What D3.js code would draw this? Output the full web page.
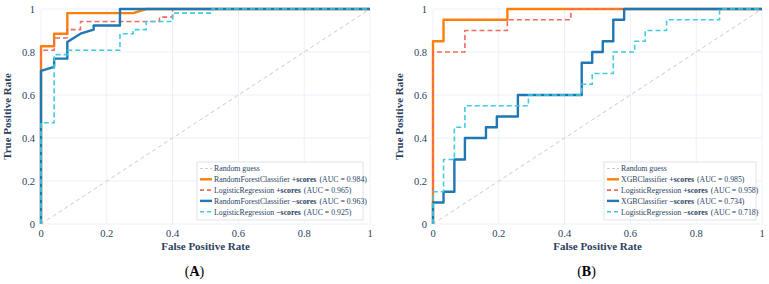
<!DOCTYPE html>
<html>
<head>
<meta charset="utf-8">
<script src="https://cdn.jsdelivr.net/npm/d3@7"></script>
<style>
  body { margin: 0; background: #fff; }
  text { font-family: "Liberation Serif", "DejaVu Serif", serif; }
</style>
</head>
<body>
<div id="chart"></div>
<script>
// Tick values for both axes
var ticks = [0, 0.2, 0.4, 0.6, 0.8, 1];
var tickLabels = ["0", "0.2", "0.4", "0.6", "0.8", "1"];

// Panel A: RandomForest vs LogisticRegression (25 negatives, 52 positives)
var aRfPosFpr = [0, 0, 0.04, 0.04, 0.08, 0.08, 0.28, 0.32, 1];
var aRfPosTpr = [0, 0.827, 0.827, 0.885, 0.885, 0.981, 0.981, 1, 1];
var aLrPosFpr = [0, 0, 0.04, 0.04, 0.08, 0.08, 0.12, 0.12, 0.36, 0.36, 0.40, 0.40, 1];
var aLrPosTpr = [0, 0.808, 0.808, 0.865, 0.865, 0.904, 0.904, 0.942, 0.942, 0.962, 0.962, 1, 1];
var aRfNegFpr = [0, 0, 0.04, 0.04, 0.08, 0.08, 0.12, 0.16, 0.16, 0.24, 0.24, 1];
var aRfNegTpr = [0, 0.712, 0.731, 0.769, 0.769, 0.846, 0.885, 0.904, 0.923, 0.923, 1, 1];
var aLrNegFpr = [0, 0, 0.04, 0.04, 0.08, 0.08, 0.24, 0.24, 0.28, 0.28, 0.32, 0.32, 0.40, 0.40, 0.52, 0.52, 1];
var aLrNegTpr = [0, 0.471, 0.471, 0.788, 0.788, 0.808, 0.808, 0.885, 0.885, 0.904, 0.904, 0.942, 0.942, 0.981, 0.981, 1, 1];
var aNames = ["RandomForestClassifier", "LogisticRegression", "RandomForestClassifier", "LogisticRegression"];
var aAuc = ["0.984", "0.965", "0.963", "0.925"];

// Panel B: XGB vs LogisticRegression (31 negatives, 20 positives)
var bXgbPosFpr = [0, 0, 0.032, 0.032, 0.226, 0.226, 1];
var bXgbPosTpr = [0, 0.85, 0.85, 0.95, 0.95, 1, 1];
var bLrPosFpr = [0, 0, 0.097, 0.097, 0.226, 0.226, 0.419, 0.419, 1];
var bLrPosTpr = [0, 0.8, 0.8, 0.9, 0.9, 0.95, 0.95, 1, 1];
var bXgbNegFpr = [0, 0, 0.032, 0.032, 0.065, 0.065, 0.097, 0.097, 0.161, 0.161, 0.194, 0.194, 0.258, 0.258, 0.452, 0.452, 0.484, 0.484, 0.516, 0.516, 0.548, 0.548, 0.581, 0.581, 1];
var bXgbNegTpr = [0, 0.1, 0.1, 0.15, 0.15, 0.3, 0.3, 0.4, 0.4, 0.45, 0.45, 0.5, 0.5, 0.6, 0.6, 0.75, 0.75, 0.8, 0.8, 0.85, 0.85, 0.95, 0.95, 1, 1];
var bLrNegFpr = [0, 0, 0.032, 0.032, 0.065, 0.065, 0.097, 0.097, 0.290, 0.290, 0.452, 0.452, 0.484, 0.484, 0.548, 0.548, 0.613, 0.613, 0.645, 0.645, 0.710, 0.710, 0.871, 0.871, 1];
var bLrNegTpr = [0, 0.15, 0.15, 0.3, 0.3, 0.45, 0.45, 0.55, 0.55, 0.6, 0.6, 0.65, 0.65, 0.7, 0.7, 0.8, 0.8, 0.85, 0.85, 0.9, 0.9, 0.95, 0.95, 1, 1];
var bNames = ["XGBClassifier", "LogisticRegression", "XGBClassifier", "LogisticRegression"];
var bAuc = ["0.985", "0.958", "0.734", "0.718"];

var scoreTags = ["+scores", "+scores", "\u2212scores", "\u2212scores"];
var colors = ["#ff7f0e", "#ef6a5a", "#1f77b4", "#3fcbe0"];
var dashes = [null, "5,3", null, "5,3"];
var widths = [2.4, 1.6, 2.4, 1.6];
var textColor = "#2a3f5f";

var width = 769, height = 284;
var svg = d3.select("#chart").append("svg")
  .attr("width", width)
  .attr("height", height);

function zip(fx, ty) {
  return fx.map(function(v, i) { return [v, ty[i]]; });
}

function drawPanel(left, right, series, names, aucs, legendX, legendW, tag) {
  var top = 9, bottom = 224;
  var x = d3.scaleLinear().domain([0, 1]).range([left, right]);
  var y = d3.scaleLinear().domain([0, 1]).range([bottom, top]);
  var g = svg.append("g");

  // grid lines
  g.selectAll(".gx").data(ticks).enter().append("line")
    .attr("x1", function(d) { return x(d); }).attr("x2", function(d) { return x(d); })
    .attr("y1", top).attr("y2", bottom)
    .attr("stroke", "#ebf0f8").attr("stroke-width", 1);
  g.selectAll(".gy").data(ticks).enter().append("line")
    .attr("y1", function(d) { return y(d); }).attr("y2", function(d) { return y(d); })
    .attr("x1", left).attr("x2", right)
    .attr("stroke", "#ebf0f8").attr("stroke-width", 1);

  // tick labels
  g.selectAll(".tx").data(ticks).enter().append("text")
    .attr("x", function(d) { return x(d); })
    .attr("y", bottom + 13)
    .attr("text-anchor", "middle")
    .attr("font-size", 10.5).attr("fill", textColor)
    .text(function(d, i) { return tickLabels[i]; });
  g.selectAll(".ty").data(ticks).enter().append("text")
    .attr("x", left - 6)
    .attr("y", function(d) { return y(d) + 3.5; })
    .attr("text-anchor", "end")
    .attr("font-size", 10.5).attr("fill", textColor)
    .text(function(d, i) { return tickLabels[i]; });

  // axis titles
  g.append("text")
    .attr("x", (left + right) / 2).attr("y", bottom + 26)
    .attr("text-anchor", "middle").attr("font-size", 11).attr("font-weight", "bold")
    .attr("fill", textColor).text("False Positive Rate");
  g.append("text")
    .attr("transform", "translate(" + (left - 30) + "," + ((top + bottom) / 2) + ") rotate(-90)")
    .attr("text-anchor", "middle").attr("font-size", 11).attr("font-weight", "bold")
    .attr("fill", textColor).text("True Positive Rate");

  // random guess diagonal
  var line = d3.line().x(function(d) { return x(d[0]); }).y(function(d) { return y(d[1]); });
  g.append("path")
    .attr("d", line([[0, 0], [1, 1]]))
    .attr("fill", "none").attr("stroke", "#cccccc").attr("stroke-width", 1)
    .attr("stroke-dasharray", "4,3");

  // ROC curves
  series.forEach(function(s, i) {
    g.append("path")
      .attr("d", line(s))
      .attr("fill", "none")
      .attr("stroke", colors[i])
      .attr("stroke-width", widths[i])
      .attr("stroke-dasharray", dashes[i])
      .attr("stroke-linejoin", "round");
  });

  // legend
  var ly = 162, rowH = 10.8;
  var lg = g.append("g");
  lg.append("rect")
    .attr("x", legendX).attr("y", ly).attr("width", legendW).attr("height", 58)
    .attr("fill", "#fff").attr("stroke", "#d6dbe4").attr("stroke-width", 0.8);
  var rows = [{ label: "Random guess", color: "#cccccc", dash: "3,2", w: 1 }];
  names.forEach(function(n, i) {
    rows.push({ label: n, tag: scoreTags[i], auc: aucs[i], color: colors[i], dash: dashes[i] ? "4,3" : null, w: i % 2 === 0 ? 2.4 : 1.6 });
  });
  rows.forEach(function(r, i) {
    var ry = ly + 6.5 + i * rowH;
    lg.append("line")
      .attr("x1", legendX + 3).attr("x2", legendX + 15)
      .attr("y1", ry).attr("y2", ry)
      .attr("stroke", r.color).attr("stroke-width", r.w)
      .attr("stroke-dasharray", r.dash);
    var t = lg.append("text")
      .attr("x", legendX + 17).attr("y", ry + 2.8)
      .attr("font-size", 7.8).attr("fill", textColor);
    t.append("tspan").text(r.label);
    if (r.tag) {
      t.append("tspan").text(" ");
      t.append("tspan").attr("font-weight", "bold").text(r.tag);
      t.append("tspan").attr("dx", 3).text("(AUC = " + r.auc + ")");
    }
  });

  // panel tag
  var pt = svg.append("text")
    .attr("x", (left + right) / 2 - 11).attr("y", 276)
    .attr("text-anchor", "middle").attr("font-size", 14).attr("fill", "#000");
  pt.append("tspan").text("(");
  pt.append("tspan").attr("font-weight", "bold").text(tag);
  pt.append("tspan").text(")");
}

drawPanel(41, 370,
  [zip(aRfPosFpr, aRfPosTpr), zip(aLrPosFpr, aLrPosTpr), zip(aRfNegFpr, aRfNegTpr), zip(aLrNegFpr, aLrNegTpr)],
  aNames, aAuc, 197, 166, "A");

drawPanel(433, 762,
  [zip(bXgbPosFpr, bXgbPosTpr), zip(bLrPosFpr, bLrPosTpr), zip(bXgbNegFpr, bXgbNegTpr), zip(bLrNegFpr, bLrNegTpr)],
  bNames, bAuc, 604, 152, "B");
</script>
</body>
</html>
